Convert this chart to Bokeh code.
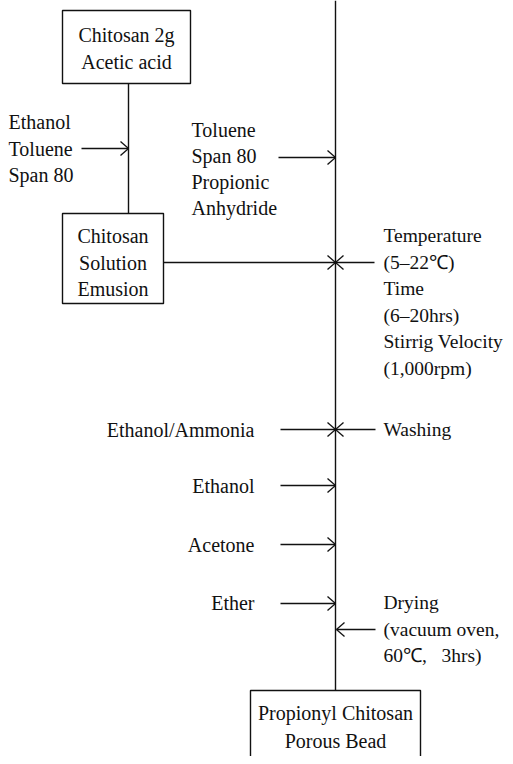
from bokeh.plotting import figure
from bokeh.models import Range1d
from bokeh.core.properties import value
from bokeh.embed import file_html
from bokeh.resources import INLINE

FONT = "Liberation Serif"
FS = "20px"

# ---- boxes: (left, right, top, bottom, lines of text) ----
box_left = [62, 62, 250]
box_right = [190, 163, 420]
box_top = [10, 213, 690]
box_bottom = [83, 303, 800]
box_texts = [["Chitosan 2g", "Acetic acid"],
             ["Chitosan", "Solution", "Emusion"],
             ["Propionyl Chitosan", "Porous Bead"]]
box_text_y = [[34, 61], [235, 262, 288], [712, 740]]

# ---- plain connecting lines ----
line_x0 = [128, 335]
line_y0 = [83, 0]
line_x1 = [128, 335]
line_y1 = [213, 690]

# ---- arrows: start -> end (tip on the process line) ----
arr_x0 = [81, 278, 163, 374, 280, 375, 280, 280, 280, 375]
arr_y0 = [148, 157, 262, 262, 429, 429, 485, 544, 603, 629]
arr_x1 = [128, 335, 335, 335, 335, 335, 335, 335, 335, 336]
arr_y1 = arr_y0

# ---- free labels ----
lab_left_x = 8
lab_left = ["Ethanol", "Toluene", "Span 80"]
lab_left_y = [121, 148, 174]

lab_mid_x = 191
lab_mid = ["Toluene", "Span 80", "Propionic", "Anhydride"]
lab_mid_y = [129, 155, 181, 207]

lab_cond_x = 383
lab_cond = ["Temperature", "(5\u201322\u2103)", "Time", "(6\u201320hrs)",
            "Stirrig Velocity", "(1,000rpm)", "Washing",
            "Drying", "(vacuum oven,", "60\u2103,\u2002 3hrs)"]
lab_cond_y = [235, 262, 288, 315, 341, 368, 429, 602, 629, 655]

lab_wash_x = 254
lab_wash = ["Ethanol/Ammonia", "Ethanol", "Acetone", "Ether"]
lab_wash_y = [429, 485, 544, 602]

p = figure(width=505, height=756, x_range=Range1d(0, 505), y_range=Range1d(756, 0),
           output_backend="svg", toolbar_location=None, min_border=0,
           background_fill_color="white", border_fill_color="white")
p.axis.visible = False
p.grid.visible = False
p.outline_line_color = None

LC = "#111111"

p.quad(left=box_left, right=box_right, top=box_top, bottom=box_bottom,
       fill_color="white", line_color=LC, line_width=1.4)

p.segment(x0=line_x0, y0=line_y0, x1=line_x1, y1=line_y1, line_color=LC, line_width=1.4)
p.segment(x0=arr_x0, y0=arr_y0, x1=arr_x1, y1=arr_y1, line_color=LC, line_width=1.3)

# arrow heads (open V) computed from arrow data
hx0, hy0, hx1, hy1 = [], [], [], []
for xs, xe, ye in zip(arr_x0, arr_x1, arr_y1):
    d = 1 if xe > xs else -1
    for s in (-1, 1):
        hx0.append(xe - d * 8); hy0.append(ye + s * 7)
        hx1.append(xe); hy1.append(ye)
p.segment(x0=hx0, y0=hy0, x1=hx1, y1=hy1, line_color=LC, line_width=1.3)

# box texts
bx, by, bt = [], [], []
for l, r, lines, ys in zip(box_left, box_right, box_texts, box_text_y):
    for t, y in zip(lines, ys):
        bx.append((l + r) / 2); by.append(y); bt.append(t)
p.text(x=bx, y=by, text=bt, text_align="center", text_baseline="middle",
       text_font=value(FONT), text_font_size=FS, text_color=LC)

def labels(x, texts, ys, align, fs=FS):
    p.text(x=[x] * len(texts), y=ys, text=texts, text_align=align, text_baseline="middle",
           text_font=value(FONT), text_font_size=fs, text_color=LC)

labels(lab_left_x, lab_left, lab_left_y, "left")
labels(lab_mid_x, lab_mid, lab_mid_y, "left")
labels(lab_cond_x, lab_cond, lab_cond_y, "left", "19.5px")
labels(lab_wash_x, lab_wash, lab_wash_y, "right")

open("out.html", "w").write(file_html(p, INLINE))
